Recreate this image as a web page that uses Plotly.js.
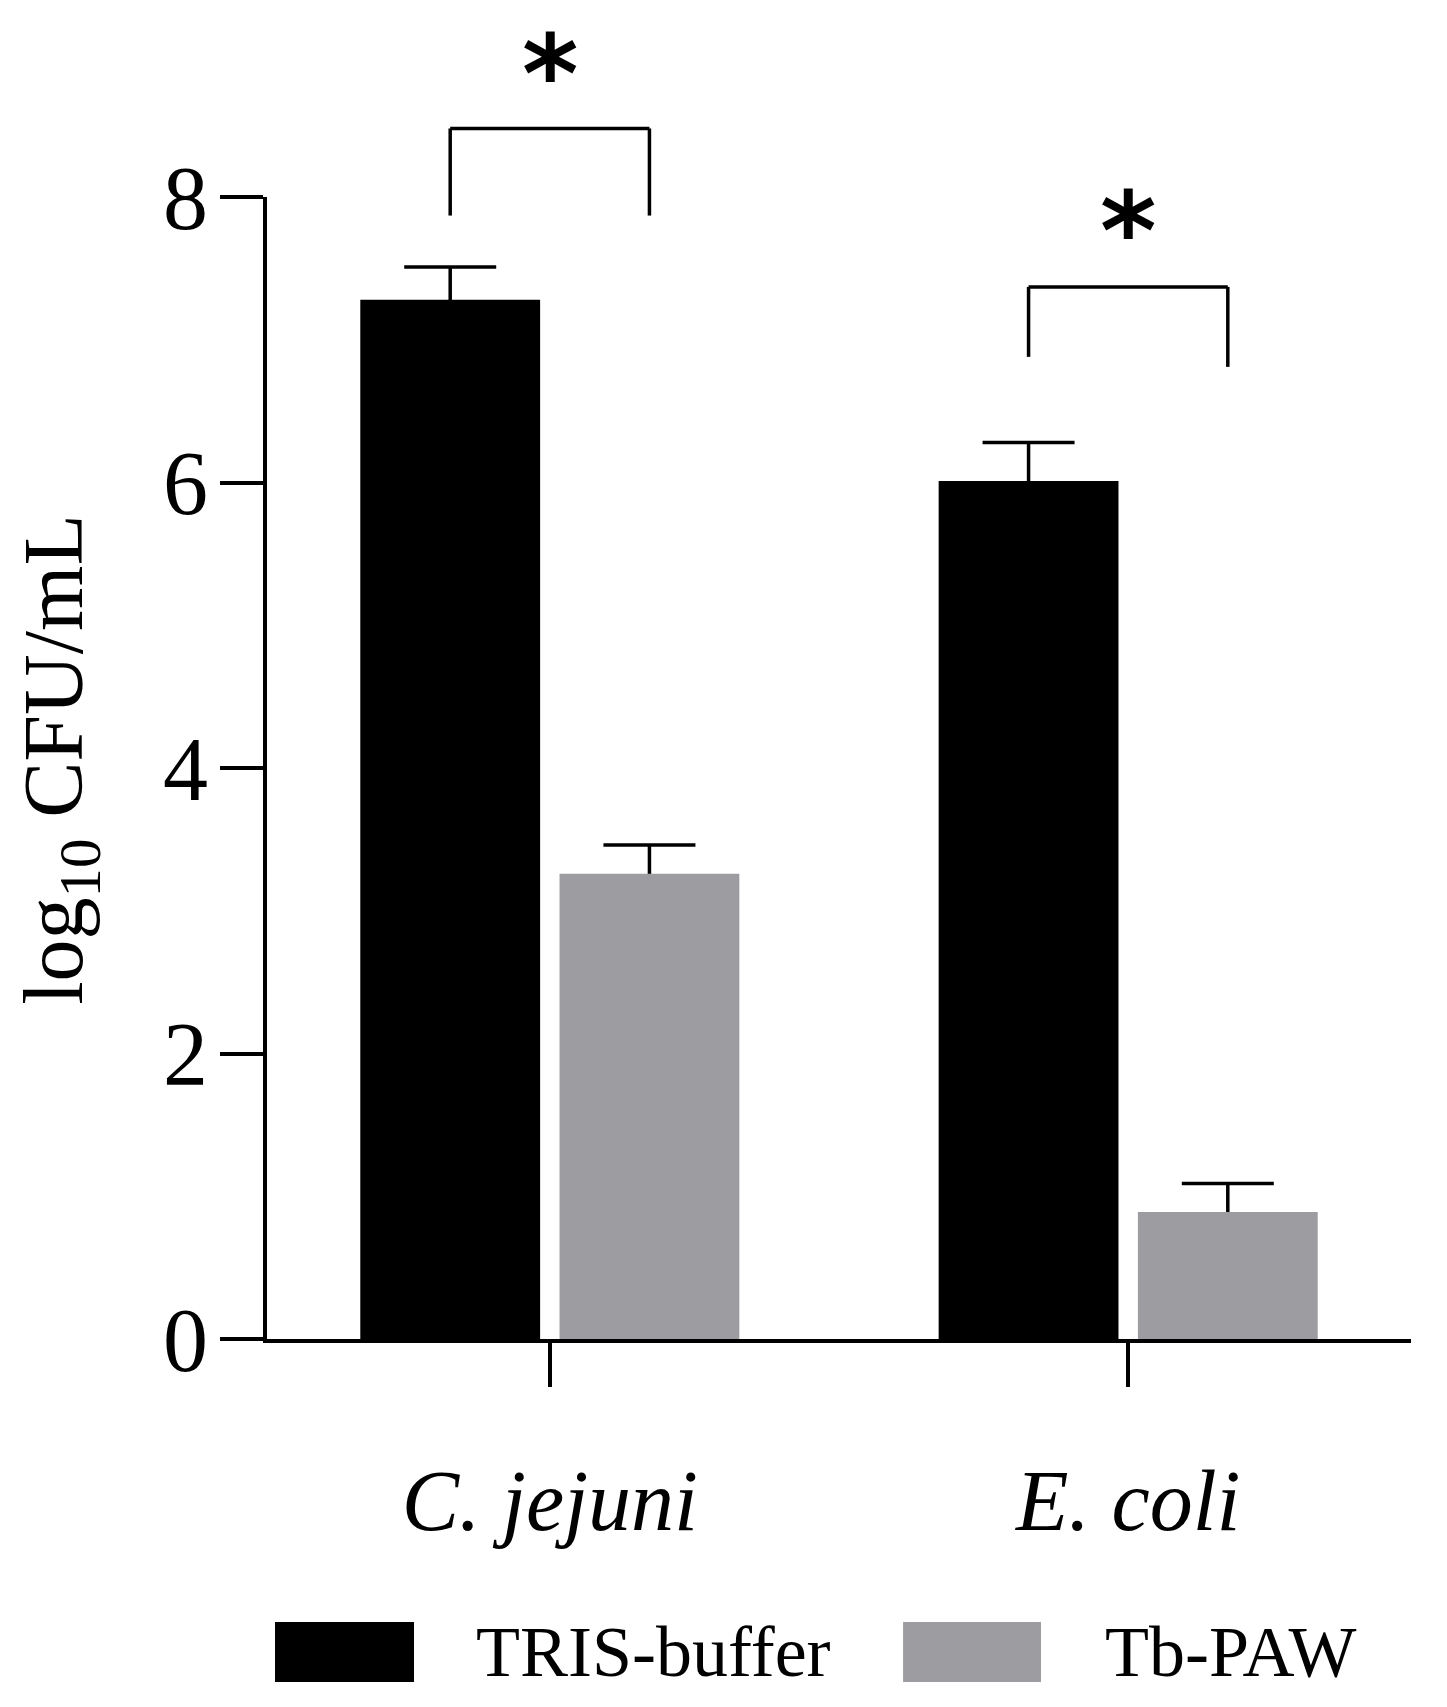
<!DOCTYPE html>
<html>
<head>
<meta charset="utf-8">
<script src="https://cdn.plot.ly/plotly-3.0.1.min.js"></script>
<style>
  html, body { margin: 0; padding: 0; background: #fff; }
  #chart { width: 1447px; height: 1707px; }
</style>
</head>
<body>
<div id="chart"></div>
<script>
/* ── DATA ─────────────────────────────────── */
const categories  = ['C. jejuni', 'E. coli'];
const seriesNames = ['TRIS-buffer', 'Tb-PAW'];
const trisMean = [7.28, 6.01];
const trisErr  = [0.23, 0.27];
const pawMean  = [3.26, 0.89];
const pawErr   = [0.20, 0.20];

// significance brackets (data units, log10 CFU/mL)
const sigTop      = [8.48, 7.37];
const sigLeftEnd  = [7.87, 6.88];
const sigRightEnd = [7.87, 6.81];
const sigStarY    = [8.86, 7.76];
const sigLabel    = ['*', '*'];

/* ── STYLE ────────────────────────────────── */
const COLORS = ['#000000', '#9d9ca1'];
const SERIF = 'Liberation Serif, Times New Roman, serif';
const Y_MAX = 8;
const BARGAP = 0.311;
const BARGROUPGAP = 0.0975;
const LINE_W = 4;

// error bars live on a transparent trace drawn first; the lower arm runs
// down to zero so the opaque bar painted afterwards hides it and only the
// upper whisker stays visible
function errTrace(group, y, err) {
  return {
    type: 'bar', x: categories, y, offsetgroup: group,
    marker: { color: 'rgba(0,0,0,0)', line: { width: 0 } },
    error_y: {
      type: 'data', symmetric: false,
      array: err, arrayminus: y,
      color: '#000', thickness: 3.5, width: 46,
    },
    showlegend: false, hoverinfo: 'skip',
  };
}

function barTrace(group, name, y, color) {
  return {
    type: 'bar', name, x: categories, y, offsetgroup: group,
    marker: { color, line: { width: 0 } },
    showlegend: false, hoverinfo: 'skip',
  };
}

const traces = [
  errTrace('tris', trisMean, trisErr),
  errTrace('paw', pawMean, pawErr),
  barTrace('tris', seriesNames[0], trisMean, COLORS[0]),
  barTrace('paw', seriesNames[1], pawMean, COLORS[1]),
];

// bracket legs sit on the centres of the two grouped bars
const half = (1 - BARGAP) / 4;
const shapes = [];
const annotations = [];
categories.forEach((c, i) => {
  const xl = i - half, xr = i + half;
  const line = { color: '#000', width: 3.5 };
  const base = { type: 'line', xref: 'x', yref: 'paper', line };
  shapes.push({ ...base, x0: xl, x1: xr, y0: sigTop[i] / Y_MAX, y1: sigTop[i] / Y_MAX });
  shapes.push({ ...base, x0: xl, x1: xl, y0: sigTop[i] / Y_MAX, y1: sigLeftEnd[i] / Y_MAX });
  shapes.push({ ...base, x0: xr, x1: xr, y0: sigTop[i] / Y_MAX, y1: sigRightEnd[i] / Y_MAX });
  annotations.push({
    x: i, xref: 'x', y: sigStarY[i] / Y_MAX, yref: 'paper',
    text: sigLabel[i], showarrow: false, xanchor: 'center', yanchor: 'middle',
    font: { family: 'DejaVu Sans', size: 108, color: '#000', weight: 'bold' },
  });
});

// hand-made legend with large swatches
const legendItems = [
  { sw: [0.007, 0.1285], tx: 0.181 },
  { sw: [0.556, 0.6766], tx: 0.731 },
];
legendItems.forEach((it, k) => {
  shapes.push({
    type: 'rect', xref: 'paper', yref: 'paper',
    x0: it.sw[0], x1: it.sw[1], y0: -0.2478, y1: -0.3004,
    fillcolor: COLORS[k], line: { width: 0 },
  });
  annotations.push({
    x: it.tx, xref: 'paper', y: -0.274, yref: 'paper',
    text: seriesNames[k], showarrow: false, xanchor: 'left', yanchor: 'middle',
    font: { family: SERIF, size: 72, color: '#000' },
  });
});

// y-axis title
annotations.push({
  x: -0.181, xref: 'paper', y: 0.508, yref: 'paper',
  text: 'log<sub>10</sub> CFU/mL', textangle: -90, showarrow: false,
  xanchor: 'center', yanchor: 'middle',
  font: { family: SERIF, size: 84, color: '#000' },
});

const layout = {
  width: 1447, height: 1707,
  paper_bgcolor: '#fff', plot_bgcolor: '#fff',
  margin: { l: 267, r: 36, t: 197, b: 368 },
  barmode: 'group', bargap: BARGAP, bargroupgap: BARGROUPGAP,
  showlegend: false,
  font: { family: SERIF, color: '#000' },
  xaxis: {
    type: 'category',
    range: [-0.489, 1.489],
    tickvals: categories,
    ticktext: categories.map(c => `<i>${c}</i>`),
    ticks: 'outside', ticklen: 44, tickwidth: LINE_W, tickcolor: '#000',
    showline: true, linewidth: LINE_W, linecolor: '#000',
    showgrid: false, zeroline: false,
    tickfont: { family: SERIF, size: 86, color: '#000' },
    ticklabelstandoff: 40,
  },
  yaxis: {
    range: [0, Y_MAX],
    tickvals: [0, 2, 4, 6, 8],
    ticks: 'outside', ticklen: 43, tickwidth: LINE_W, tickcolor: '#000',
    showline: true, linewidth: LINE_W, linecolor: '#000',
    showgrid: false, zeroline: false,
    tickfont: { family: SERIF, size: 90, color: '#000' },
    ticklabelstandoff: -6,
  },
  shapes,
  annotations,
};

Plotly.newPlot('chart', traces, layout, { displayModeBar: false, staticPlot: true });
</script>
</body>
</html>
